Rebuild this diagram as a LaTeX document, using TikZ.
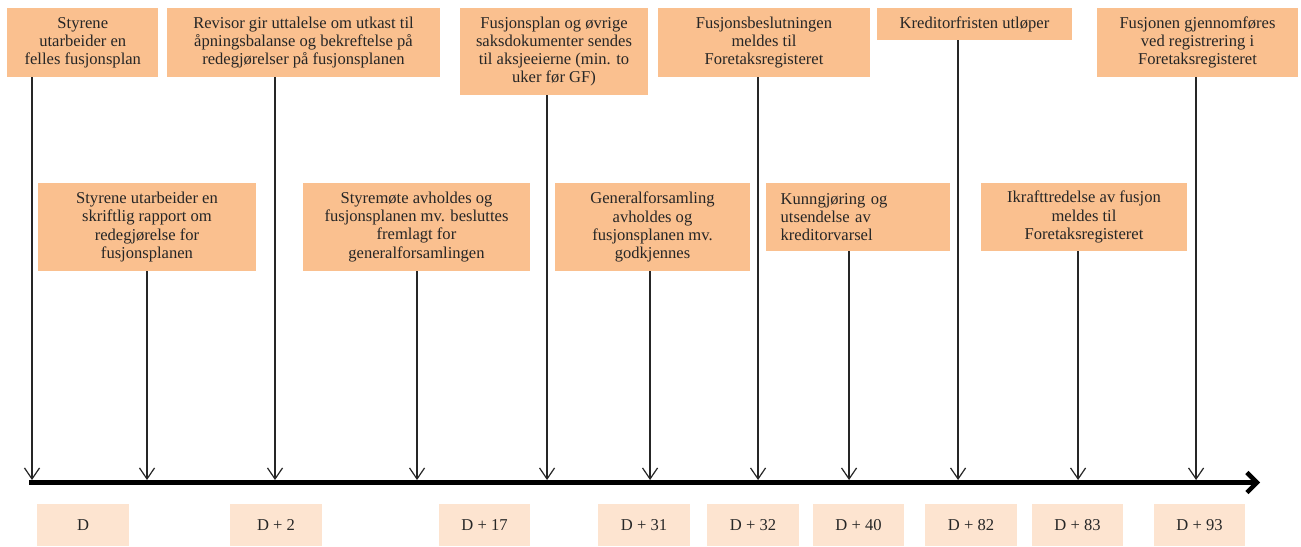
\documentclass[tikz,border=0pt]{standalone}
\usepackage{fontspec}
\setmainfont{Liberation Serif}
\usepackage{tikz}
\usetikzlibrary{arrows,arrows.meta,shapes,positioning}
\definecolor{oransje}{RGB}{250,192,143}
\definecolor{lysoransje}{RGB}{253,228,208}

\begin{document}
\begin{tikzpicture}[scale=0.35]
                    \tikzstyle{every node}+=[inner sep=0pt]
                    \tikzstyle{hendelse}=[fill=oransje, text=black!85, align=center, font=\fontsize{16.5}{18}\selectfont]
                    \tikzstyle{dato}=[fill=lysoransje, text=black!85, minimum width=91pt, minimum height=42pt, font=\fontsize{16.5}{18}\selectfont]
                    \tikzstyle{pil}=[black!85, line width=1.2pt, -{Straight Barb[length=11pt,width=15pt]}]
                    \tikzstyle{akse}=[black, line width=4.5pt, -{Straight Barb[length=10pt,width=20pt]}]
                    \useasboundingbox (0,0) rectangle (130.1,-54.7);
                    \coordinate (start) at (2.9,-48.25);
                    \coordinate (slutt) at (126.0,-48.25);
                    \coordinate (t1) at (3.2,-48.0);
                    \coordinate (t2) at (14.7,-48.0);
                    \coordinate (t3) at (27.5,-48.0);
                    \coordinate (t4) at (41.7,-48.0);
                    \coordinate (t5) at (54.7,-48.0);
                    \coordinate (t6) at (65.0,-48.0);
                    \coordinate (t7) at (75.8,-48.0);
                    \coordinate (t8) at (84.9,-48.0);
                    \coordinate (t9) at (95.8,-48.0);
                    \coordinate (t10) at (107.8,-48.0);
                    \coordinate (t11) at (119.6,-48.0);
                    \node [hendelse, minimum width=150pt, minimum height=69pt] (h1) at (8.28,-4.25) {Styrene\\utarbeider en\\felles fusjonsplan};
                    \node [hendelse, minimum width=271pt, minimum height=69pt] (h2) at (30.35,-4.25) {Revisor gir uttalelse om utkast til\\åpningsbalanse og bekreftelse på\\redegjørelser på fusjonsplanen};
                    \node [hendelse, minimum width=188pt, minimum height=87pt] (h3) at (55.4,-5.15) {Fusjonsplan og øvrige\\saksdokumenter sendes\\til aksjeeierne (min. to\\uker før GF)};
                    \node [hendelse, minimum width=212pt, minimum height=69pt] (h4) at (76.4,-4.25) {Fusjonsbeslutningen\\meldes til\\Foretaksregisteret};
                    \node [hendelse, minimum width=195pt, minimum height=32pt] (h5) at (97.45,-2.4) {Kreditorfristen utløper};
                    \node [hendelse, minimum width=201pt, minimum height=69pt] (h6) at (119.75,-4.25) {Fusjonen gjennomføres\\ved registrering i\\Foretaksregisteret};
                    \node [hendelse, minimum width=218pt, minimum height=88pt] (ha) at (14.7,-22.7) {Styrene utarbeider en\\skriftlig rapport om\\redegjørelse for\\fusjonsplanen};
                    \node [hendelse, minimum width=227pt, minimum height=88pt] (hb) at (41.65,-22.7) {Styremøte avholdes og\\fusjonsplanen mv. besluttes\\fremlagt for\\generalforsamlingen};
                    \node [hendelse, minimum width=195pt, minimum height=88pt] (hc) at (65.25,-22.7) {Generalforsamling\\avholdes og\\fusjonsplanen mv.\\godkjennes};
                    \node [hendelse, align=left, text width=154pt, inner xsep=15pt, minimum height=68pt] (hd) at (85.8,-21.7) {Kunngjøring og\\utsendelse av\\kreditorvarsel};
                    \node [hendelse, minimum width=206pt, minimum height=68pt] (he) at (108.4,-21.7) {Ikrafttredelse av fusjon\\meldes til\\Foretaksregisteret};
                    \draw [akse] (start) -- (slutt);
                    \draw [pil] (h1.south -| t1) -- (t1);
                    \draw [pil] (ha.south -| t2) -- (t2);
                    \draw [pil] (h2.south -| t3) -- (t3);
                    \draw [pil] (hb.south -| t4) -- (t4);
                    \draw [pil] (h3.south -| t5) -- (t5);
                    \draw [pil] (hc.south -| t6) -- (t6);
                    \draw [pil] (h4.south -| t7) -- (t7);
                    \draw [pil] (hd.south -| t8) -- (t8);
                    \draw [pil] (h5.south -| t9) -- (t9);
                    \draw [pil] (he.south -| t10) -- (t10);
                    \draw [pil] (h6.south -| t11) -- (t11);
                    \node [dato] (d0) at (8.3,-52.5) {D};
                    \node [dato] (d2) at (27.6,-52.5) {D + 2};
                    \node [dato] (d17) at (48.45,-52.5) {D + 17};
                    \node [dato] (d31) at (64.4,-52.5) {D + 31};
                    \node [dato] (d32) at (75.3,-52.5) {D + 32};
                    \node [dato] (d40) at (85.85,-52.5) {D + 40};
                    \node [dato] (d82) at (97.1,-52.5) {D + 82};
                    \node [dato] (d83) at (107.75,-52.5) {D + 83};
                    \node [dato] (d93) at (119.95,-52.5) {D + 93};
                \end{tikzpicture}
\end{document}
